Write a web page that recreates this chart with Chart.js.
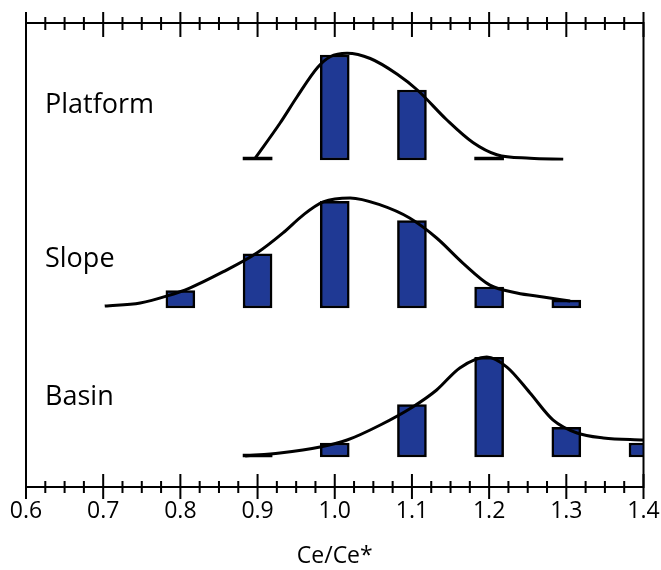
<!DOCTYPE html>
<html>
<head>
<meta charset="utf-8">
<script src="https://cdn.jsdelivr.net/npm/chart.js@4/dist/chart.umd.min.js"></script>
<style>
  html, body { margin: 0; padding: 0; background: #ffffff; }
  #wrap { width: 661px; height: 570px; }
</style>
</head>
<body>
<div id="wrap"><canvas id="c" width="661" height="570"></canvas></div>
<script>
// ---- Data ----
const panelNames = ["Platform", "Slope", "Basin"];

// Histogram bins (Ce/Ce*) and frequencies (relative units)
const platformBins = [0.9, 1.0, 1.1, 1.2];
const platformFreq = [1.7, 60, 40, 1.7];

const slopeBins = [0.8, 0.9, 1.0, 1.1, 1.2, 1.3];
const slopeFreq = [10, 31, 61, 50, 12, 4.5];

const basinBins = [0.9, 1.0, 1.1, 1.2, 1.3, 1.4];
const basinFreq = [1.7, 8, 30, 57, 17, 8];

// Smoothed distribution curves
const platformCurveX = [0.897, 0.929, 0.951, 0.978, 0.994, 1.016, 1.046, 1.081, 1.107, 1.145, 1.179, 1.210, 1.253, 1.296];
const platformCurveY = [1.1, 21, 36, 53, 59, 61, 58, 49, 40, 23, 10, 3, 1, 0.5];

const slopeCurveX = [0.702, 0.748, 0.783, 0.812, 0.855, 0.899, 0.933, 0.959, 0.985, 1.020, 1.059, 1.097, 1.132, 1.166, 1.201, 1.236, 1.270, 1.305];
const slopeCurveY = [1.1, 2.9, 6.9, 11.4, 20.6, 31.4, 42.9, 53.1, 60.6, 62.9, 58.9, 51.4, 40, 25.7, 13.1, 8.6, 6.3, 4];

const basinCurveX = [0.884, 0.929, 0.981, 1.016, 1.059, 1.101, 1.132, 1.162, 1.197, 1.223, 1.253, 1.283, 1.314, 1.348, 1.400];
const basinCurveY = [0.6, 2.3, 5.7, 9.7, 18.3, 28.6, 38.3, 50.9, 57.1, 51.4, 36.6, 21.1, 13.7, 10.9, 9.7];

// x-axis range / tick steps
const xMin = 0.6, xMax = 1.4, majorStep = 0.1, minorStep = 0.025;
const xTitle = "Ce/Ce*";

// ---- Layout (pixels) ----
const AREA_TOP = 23, AREA_BOTTOM = 487;
const PX_PER_UNIT = 1.75;
const baselines = { yP: 160, yS: 308, yB: 457 };
const labelPos = { yP: 112.5, yS: 266.5, yB: 405 };

function axisRange(base) {
  const min = -(AREA_BOTTOM - base) / PX_PER_UNIT;
  const max = min + (AREA_BOTTOM - AREA_TOP) / PX_PER_UNIT;
  return { min, max };
}
function pts(xs, ys) { return xs.map((x, i) => ({ x: x, y: ys[i] })); }

const BLUE = '#1f3994';
function barDs(bins, freq, axis) {
  return {
    type: 'bar',
    data: pts(bins, freq),
    yAxisID: axis,
    grouped: false,
    backgroundColor: ctx => (ctx.raw && ctx.raw.y < 2 ? '#000000' : BLUE),
    borderColor: '#000000',
    borderWidth: ctx => (ctx.raw && ctx.raw.y < 2 ? 0 : 2.5),
    borderSkipped: false,
    barThickness: 29,
    order: 2
  };
}
function lineDs(xs, ys, axis) {
  return {
    type: 'line',
    data: pts(xs, ys),
    yAxisID: axis,
    borderColor: '#000000',
    borderWidth: 3,
    pointRadius: 0,
    fill: false,
    cubicInterpolationMode: 'monotone',
    order: 1
  };
}

const frameTicks = {
  id: 'frameTicks',
  afterDatasetsDraw(chart) {
    const ctx = chart.ctx, xs = chart.scales.x, a = chart.chartArea;
    ctx.save();
    ctx.strokeStyle = '#000';
    ctx.lineWidth = 2;
    ctx.lineCap = 'butt';
    ctx.strokeRect(a.left, a.top, a.right - a.left, a.bottom - a.top);
    const n = Math.round((xMax - xMin) / minorStep);
    for (let i = 0; i <= n; i++) {
      const v = xMin + i * minorStep;
      const px = xs.getPixelForValue(v);
      const major = (i % 4 === 0);
      ctx.beginPath();
      if (major) {
        ctx.moveTo(px, a.top - 11); ctx.lineTo(px, a.top + 14);
        ctx.moveTo(px, a.bottom - 13); ctx.lineTo(px, a.bottom + 12);
      } else {
        ctx.moveTo(px, a.top - 6); ctx.lineTo(px, a.top + 7);
        ctx.moveTo(px, a.bottom - 6); ctx.lineTo(px, a.bottom + 6);
      }
      ctx.stroke();
    }
    // panel names
    ctx.fillStyle = '#000';
    ctx.font = '27px "Open Sans"';
    ctx.textAlign = 'left';
    ctx.textBaseline = 'alphabetic';
    ['yP', 'yS', 'yB'].forEach((k, i) => ctx.fillText(panelNames[i], 45, labelPos[k]));
    ctx.restore();
  }
};

const rP = axisRange(baselines.yP), rS = axisRange(baselines.yS), rB = axisRange(baselines.yB);

new Chart(document.getElementById('c'), {
  data: {
    datasets: [
      lineDs(platformCurveX, platformCurveY, 'yP'),
      lineDs(slopeCurveX, slopeCurveY, 'yS'),
      lineDs(basinCurveX, basinCurveY, 'yB'),
      barDs(platformBins, platformFreq, 'yP'),
      barDs(slopeBins, slopeFreq, 'yS'),
      barDs(basinBins, basinFreq, 'yB')
    ]
  },
  options: {
    responsive: false,
    animation: false,
    devicePixelRatio: 1,
    layout: { padding: { top: AREA_TOP, left: 26, right: 17.5, bottom: 0 } },
    plugins: { legend: { display: false }, tooltip: { enabled: false } },
    scales: {
      x: {
        type: 'linear',
        position: 'bottom',
        offset: false,
        min: xMin, max: xMax,
        grid: { display: false, drawTicks: false, offset: false },
        border: { display: false },
        ticks: {
          stepSize: majorStep,
          autoSkip: false,
          maxRotation: 0,
          padding: 11,
          color: '#000',
          font: { family: 'Open Sans', size: 23 },
          callback: v => Number(v).toFixed(1)
        },
        title: {
          display: true,
          text: xTitle,
          color: '#000',
          font: { family: 'Open Sans', size: 23 },
          padding: { top: 0, bottom: 0 }
        },
        afterFit: s => { s.height = 570 - AREA_BOTTOM; s.paddingLeft = 0; s.paddingRight = 0; }
      },
      yP: { type: 'linear', display: false, min: rP.min, max: rP.max },
      yS: { type: 'linear', display: false, min: rS.min, max: rS.max },
      yB: { type: 'linear', display: false, min: rB.min, max: rB.max }
    }
  },
  plugins: [frameTicks]
});
</script>
</body>
</html>
